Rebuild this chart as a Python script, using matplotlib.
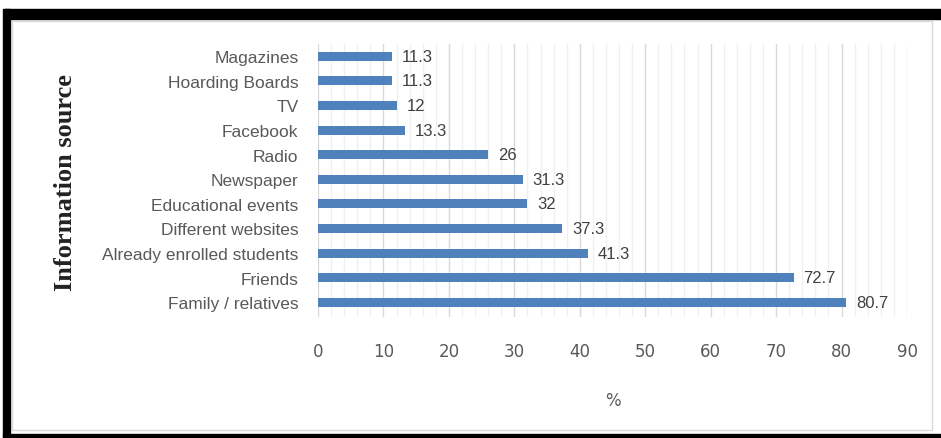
import matplotlib.pyplot as plt
from matplotlib.patches import Rectangle
from matplotlib.ticker import MultipleLocator

sources = ["Magazines", "Hoarding Boards", "TV", "Facebook", "Radio", "Newspaper",
           "Educational events", "Different websites", "Already enrolled students",
           "Friends", "Family / relatives"]
percent = [11.3, 11.3, 12, 13.3, 26, 31.3, 32, 37.3, 41.3, 72.7, 80.7]
value_labels = ["11.3", "11.3", "12", "13.3", "26", "31.3", "32", "37.3", "41.3", "72.7", "80.7"]

fig = plt.figure(figsize=(9.41, 4.39), dpi=100)

# black frame + light inner border (scan look)
fig.patches.append(Rectangle((5/941, 1-20/439), 936/941, 10/439, transform=fig.transFigure,
                             color="black", zorder=0))
fig.patches.append(Rectangle((3/941, 1-438/439), 7/941, 428/439, transform=fig.transFigure,
                             color="black", zorder=0))
fig.patches.append(Rectangle((3/941, 1-438/439), 938/941, 3/439, transform=fig.transFigure,
                             color="black", zorder=0))
fig.patches.append(Rectangle((12/941, 1-431/439), 920/941, 409/439, transform=fig.transFigure,
                             fill=False, edgecolor="#d9d9d9", lw=1, zorder=0))

ax = fig.add_axes([318/941, 1-318/439, 589/941, 273/439])
y = list(range(len(sources)))
ax.barh(y, percent, height=0.37, color="#4f81bd", zorder=3)
for yi, v, lab in zip(y, percent, value_labels):
    ax.text(v + 1.5, yi, lab, va="center", ha="left", fontsize=12, color="#404040",
            family="Liberation Sans")

ax.set_xlim(0, 90)
ax.set_ylim(len(sources) - 0.4, -0.5)
ax.set_yticks(y)
ax.set_yticklabels(sources, fontsize=12.5, color="#595959", family="Liberation Sans")
ax.xaxis.set_major_locator(MultipleLocator(10))
ax.xaxis.set_minor_locator(MultipleLocator(2))
ax.grid(axis="x", which="major", color="#d9d9d9", lw=1, zorder=0)
ax.grid(axis="x", which="minor", color="#f0f0f0", lw=1, zorder=0)
ax.tick_params(axis="y", length=0, pad=14)
ax.tick_params(axis="x", which="both", length=0, pad=18, labelsize=12, labelcolor="#595959")
for s in ax.spines.values():
    s.set_visible(False)

ax.set_xlabel("%", fontsize=12, color="#595959", labelpad=22)
fig.text(65/941, 1-183/439, "Information source", rotation=90, ha="center", va="center",
         fontsize=19, family="Liberation Serif", color="#222222", weight="bold")

fig.savefig("out.png", dpi=100)
